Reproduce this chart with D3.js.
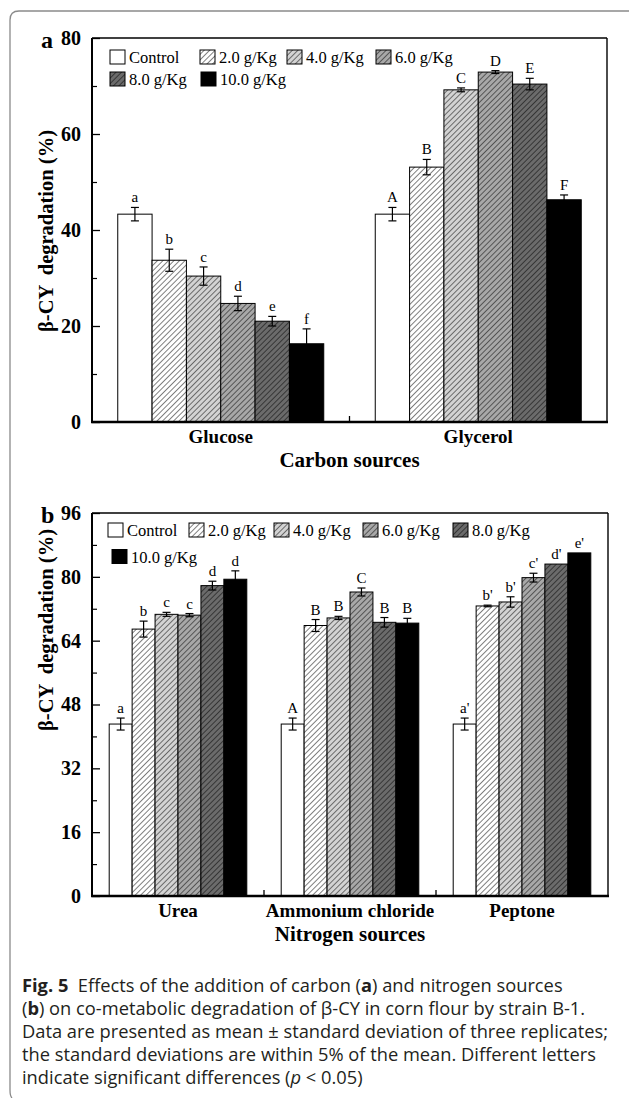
<!DOCTYPE html>
<html><head><meta charset="utf-8">
<script src="https://cdn.jsdelivr.net/npm/d3@7"></script>
<style>
html,body{margin:0;padding:0;background:#fff;}
svg{display:block;}
</style></head>
<body>
<svg id="chart" width="629" height="1098"></svg>
<script>
// ---------- DATA ----------
const seriesNames = ["Control", "2.0 g/Kg", "4.0 g/Kg", "6.0 g/Kg", "8.0 g/Kg", "10.0 g/Kg"];

const carbonCategories = ["Glucose", "Glycerol"];
const carbonValues = [
  [43.3, 33.7, 30.4, 24.7, 21.0, 16.3],
  [43.3, 53.1, 69.2, 72.9, 70.4, 46.3]
];
const carbonErrors = [
  [1.4, 2.3, 1.9, 1.5, 1.0, 3.1],
  [1.4, 1.6, 0.4, 0.3, 1.2, 1.0]
];
const carbonLetters = [
  ["a", "b", "c", "d", "e", "f"],
  ["A", "B", "C", "D", "E", "F"]
];
const carbonTicks = [0, 20, 40, 60, 80];
const carbonMinorTicks = [10, 30, 50, 70];

const nitrogenCategories = ["Urea", "Ammonium chloride", "Peptone"];
const nitrogenValues = [
  [43.1, 66.9, 70.6, 70.4, 77.8, 79.4],
  [43.1, 67.8, 69.7, 76.2, 68.6, 68.4],
  [43.1, 72.7, 73.7, 79.8, 83.2, 86.0]
];
const nitrogenErrors = [
  [1.5, 2.0, 0.5, 0.4, 1.1, 2.1],
  [1.5, 1.5, 0.4, 1.0, 1.2, 1.2],
  [1.5, 0.2, 1.3, 1.1, 0, 0]
];
const nitrogenLetters = [
  ["a", "b", "c", "c", "d", "d"],
  ["A", "B", "B", "C", "B", "B"],
  ["a'", "b'", "b'", "c'", "d'", "e'"]
];
const nitrogenTicks = [0, 16, 32, 48, 64, 80, 96];
const nitrogenMinorTicks = [8, 24, 40, 56, 72, 88];

const captionLines = [
  [{t: "Fig. 5", b: true}, {t: "  Effects of the addition of carbon ("}, {t: "a", b: true}, {t: ") and nitrogen sources"}],
  [{t: "("}, {t: "b", b: true}, {t: ") on co-metabolic degradation of β-CY in corn flour by strain B-1."}],
  [{t: "Data are presented as mean ± standard deviation of three replicates;"}],
  [{t: "the standard deviations are within 5% of the mean. Different letters"}],
  [{t: "indicate significant differences ("}, {t: "p", i: true}, {t: " < 0.05)"}]
];

// ---------- STYLE ----------
const serif = "'Liberation Serif','Times New Roman',serif";
const fills = ["#ffffff", "url(#h0)", "url(#h1)", "url(#h2)", "url(#h3)", "#000000"];
const hatchBg = ["#ffffff", "#d3d3d3", "#a8a8a8", "#6b6b6b"];
const hs = 3.9;

const svg = d3.select("#chart");
const defs = svg.append("defs");
hatchBg.forEach((c, i) => {
  const p = defs.append("pattern").attr("id", "h" + i)
    .attr("patternUnits", "userSpaceOnUse").attr("width", hs).attr("height", hs)
    .attr("patternTransform", "rotate(45)");
  p.append("rect").attr("width", hs).attr("height", hs).attr("fill", c);
  p.append("line").attr("x1", 0).attr("y1", 0).attr("x2", 0).attr("y2", hs)
    .attr("stroke", "#000").attr("stroke-width", 1.0);
});

// outer frame
svg.append("path")
  .attr("d", "M629,11 L19,11 Q10,11 10,20 L10,1090 Q10,1096 12,1098")
  .attr("fill", "none").attr("stroke", "#8a8a8a").attr("stroke-width", 1.3);

function panel(cfg) {
  const g = svg.append("g");
  const x0 = d3.scaleBand().domain(cfg.cats).range([cfg.left, cfg.right]).paddingInner(0).paddingOuter(0);
  const bw = x0.bandwidth();
  const x1 = d3.scaleBand().domain(seriesNames).range([bw * 0.1, bw * 0.9]);
  const y = d3.scaleLinear().domain([0, cfg.max]).range([cfg.bottom, cfg.top]);

  cfg.cats.forEach((c, ci) => {
    const gg = g.append("g").attr("transform", `translate(${x0(c)},0)`);
    gg.selectAll("rect").data(cfg.values[ci]).join("rect")
      .attr("x", (d, i) => x1(seriesNames[i]))
      .attr("y", d => y(d))
      .attr("width", x1.bandwidth())
      .attr("height", d => y(0) - y(d))
      .attr("fill", (d, i) => fills[i])
      .attr("stroke", "#000").attr("stroke-width", 1);
    cfg.values[ci].forEach((v, i) => {
      const e = cfg.errors[ci][i];
      const cx = x1(seriesNames[i]) + x1.bandwidth() / 2;
      if (e > 0) {
        const eg = gg.append("g").attr("stroke", "#000").attr("stroke-width", 1.2);
        eg.append("line").attr("x1", cx).attr("x2", cx).attr("y1", y(v - e)).attr("y2", y(v + e));
        eg.append("line").attr("x1", cx - 4).attr("x2", cx + 4).attr("y1", y(v + e)).attr("y2", y(v + e));
        eg.append("line").attr("x1", cx - 4).attr("x2", cx + 4).attr("y1", y(v - e)).attr("y2", y(v - e));
      }
      gg.append("text").attr("x", cx).attr("y", y(v + e) - 5)
        .attr("text-anchor", "middle").attr("font-family", serif).attr("font-size", 15)
        .text(cfg.letters[ci][i]);
    });
  });

  const ya = g.append("g").attr("transform", `translate(${cfg.left},0)`)
    .call(d3.axisLeft(y).tickValues(cfg.ticks).tickSize(-8).tickPadding(11).tickFormat(d3.format("d")));
  ya.select(".domain").remove();
  ya.selectAll(".tick line").attr("stroke-width", 1.3);
  ya.selectAll("text").attr("font-family", serif).attr("font-size", 20).attr("font-weight", "bold").attr("fill", "#000");
  const ym = g.append("g").attr("transform", `translate(${cfg.left},0)`)
    .call(d3.axisLeft(y).tickValues(cfg.minor).tickSize(-5).tickFormat(""));
  ym.select(".domain").remove();
  ym.selectAll(".tick line").attr("stroke-width", 1.2);

  const xa = g.append("g").attr("transform", `translate(0,${cfg.bottom})`)
    .call(d3.axisBottom(x0).tickSize(0).tickPadding(8));
  xa.select(".domain").remove();
  xa.selectAll("text").attr("font-family", serif).attr("font-size", 19).attr("font-weight", "bold").attr("fill", "#000");
  cfg.cats.slice(1).forEach(c => {
    g.append("line").attr("x1", x0(c)).attr("x2", x0(c)).attr("y1", cfg.bottom).attr("y2", cfg.bottom - 6)
      .attr("stroke", "#000").attr("stroke-width", 1.3);
  });

  g.append("line").attr("x1", cfg.left).attr("x2", cfg.right).attr("y1", cfg.top).attr("y2", cfg.top).attr("stroke", "#000").attr("stroke-width", 1.4);
  g.append("line").attr("x1", cfg.right).attr("x2", cfg.right).attr("y1", cfg.top).attr("y2", cfg.bottom).attr("stroke", "#000").attr("stroke-width", 1.4);
  g.append("line").attr("x1", cfg.left).attr("x2", cfg.left).attr("y1", cfg.top).attr("y2", cfg.bottom).attr("stroke", "#000").attr("stroke-width", 2);
  g.append("line").attr("x1", cfg.left - 1).attr("x2", cfg.right + 1).attr("y1", cfg.bottom).attr("y2", cfg.bottom).attr("stroke", "#000").attr("stroke-width", 2.6);

  g.append("text").attr("x", (cfg.left + cfg.right) / 2).attr("y", cfg.bottom + 45)
    .attr("text-anchor", "middle").attr("font-family", serif).attr("font-size", 21).attr("font-weight", "bold")
    .text(cfg.xTitle);
  g.append("text").attr("transform", `translate(53,${cfg.yTitleY}) rotate(-90)`)
    .attr("text-anchor", "middle").attr("font-family", serif).attr("font-size", 20.5).attr("font-weight", "bold")
    .attr("xml:space", "preserve").style("white-space", "pre")
    .text("β-CY  degradation (%)");
  g.append("text").attr("x", 41).attr("y", cfg.top + 10).attr("font-family", serif).attr("font-size", 24).attr("font-weight", "bold")
    .text(cfg.letter);

  const lg = g.append("g");
  seriesNames.forEach((s, i) => {
    const pos = cfg.legPos[i];
    const lx = pos[0], ly = cfg.legY + pos[1] * cfg.legRowH;
    lg.append("rect").attr("x", lx).attr("y", ly).attr("width", 15).attr("height", 14)
      .attr("fill", fills[i]).attr("stroke", "#000").attr("stroke-width", 1);
    lg.append("text").attr("x", lx + 19).attr("y", ly + 13)
      .attr("font-family", serif).attr("font-size", 16.5).text(s);
  });
}

panel({
  cats: carbonCategories, values: carbonValues, errors: carbonErrors, letters: carbonLetters,
  ticks: carbonTicks, minor: carbonMinorTicks, max: 80,
  left: 92, right: 607, top: 38, bottom: 422,
  xTitle: "Carbon sources", yTitleY: 231, letter: "a",
  legPos: [[110, 0], [200, 0], [287, 0], [376, 0], [110, 1], [201, 1]], legY: 50, legRowH: 22
});

panel({
  cats: nitrogenCategories, values: nitrogenValues, errors: nitrogenErrors, letters: nitrogenLetters,
  ticks: nitrogenTicks, minor: nitrogenMinorTicks, max: 96,
  left: 92, right: 608, top: 513, bottom: 896,
  xTitle: "Nitrogen sources", yTitleY: 630, letter: "b",
  legPos: [[108, 0], [189, 0], [274, 0], [363, 0], [453, 0], [112, 1]], legY: 523, legRowH: 26.5
});

// caption
const cap = svg.append("g");
captionLines.forEach((line, li) => {
  const t = cap.append("text").attr("x", 22).attr("y", 992 + li * 23)
    .attr("font-family", "'Open Sans', 'Noto Sans', sans-serif").attr("font-size", 18.3).attr("fill", "#231f20")
    .attr("xml:space", "preserve").style("white-space", "pre");
  line.forEach(seg => {
    const ts = t.append("tspan").text(seg.t);
    if (seg.b) ts.attr("font-weight", "bold");
    if (seg.i) ts.attr("font-style", "italic");
  });
});
</script>
</body></html>
